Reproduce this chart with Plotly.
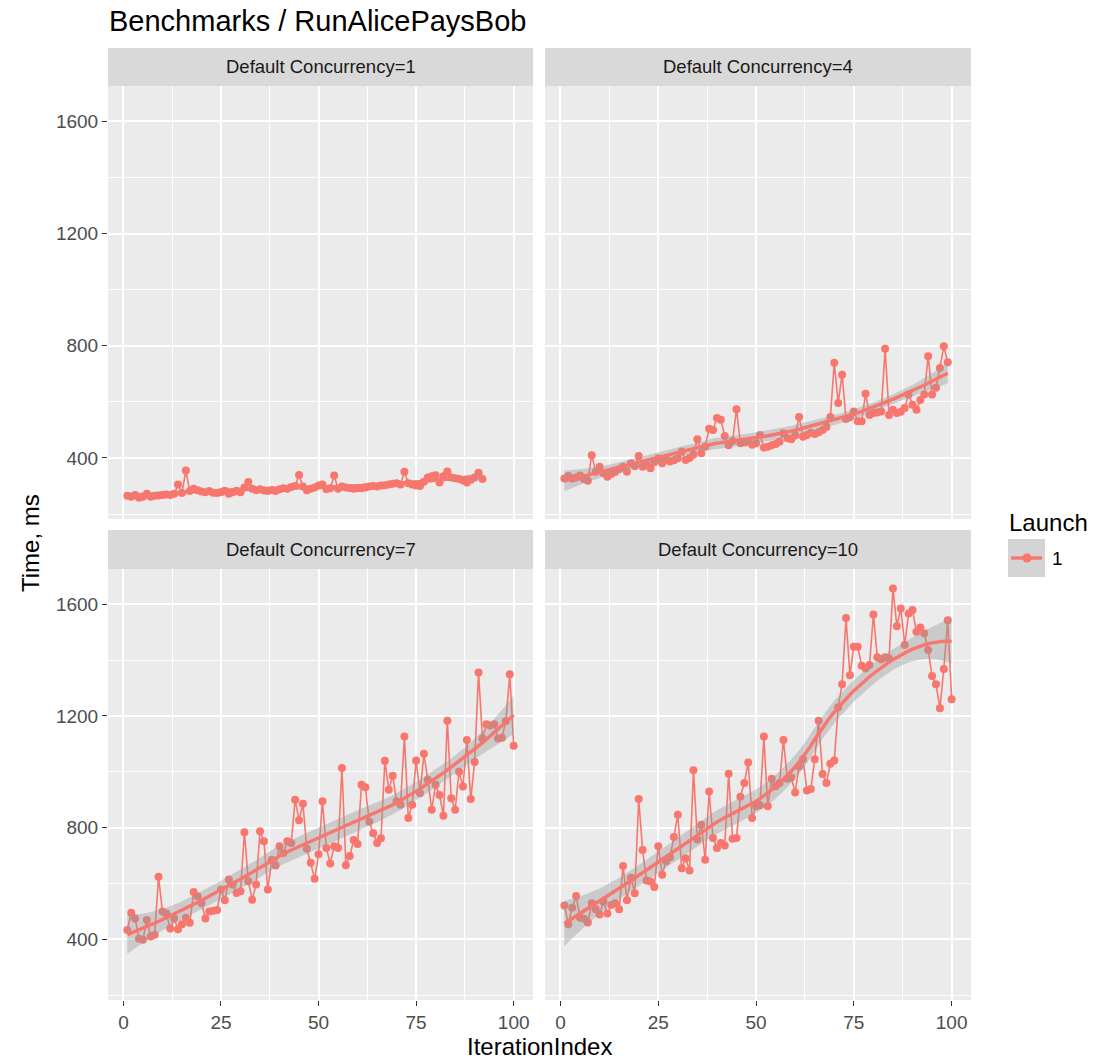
import numpy as np
import plotly.graph_objects as go

# ---- benchmark timings (ms) per iteration, one series per concurrency level ----
concurrency_levels = [1, 4, 7, 10]

time_c1 = [265, 262, 268, 258, 262, 272, 262, 265, 266, 268, 270, 268, 272, 305, 275, 355,
           282, 290, 285, 280, 278, 282, 276, 275, 278, 283, 272, 278, 283, 278, 295, 314,
           290, 285, 288, 284, 282, 286, 282, 288, 292, 290, 296, 300, 339, 298, 285, 290,
           295, 302, 305, 288, 292, 337, 290, 298, 295, 293, 290, 292, 292, 295, 298, 300,
           298, 302, 303, 305, 308, 310, 305, 351, 310, 305, 302, 300, 315, 330, 335, 338,
           312, 335, 352, 330, 328, 325, 320, 312, 322, 330, 347, 325]

time_c4 = [327, 336, 327, 330, 337, 325, 319, 410, 351, 369, 345, 333, 343, 350, 360, 369,
           351, 381, 370, 407, 369, 375, 363, 385, 399, 381, 395, 387, 392, 399, 423, 393,
           400, 411, 467, 417, 440, 504, 500, 542, 536, 478, 445, 460, 574, 452, 455, 458,
           447, 452, 482, 437, 440, 445, 450, 458, 488, 470, 467, 480, 546, 476, 482, 490,
           485, 492, 500, 510, 546, 739, 596, 697, 539, 545, 566, 531, 531, 629, 553, 560,
           562, 566, 789, 553, 572, 560, 565, 578, 626, 590, 572, 607, 626, 763, 626, 650,
           721, 798, 741]

time_c7 = [433, 495, 474, 402, 398, 469, 410, 416, 624, 499, 492, 438, 474, 436, 454, 477,
           459, 569, 554, 530, 474, 499, 502, 505, 578, 540, 614, 596, 566, 572, 783, 608,
           541, 596, 787, 751, 578, 685, 664, 733, 709, 751, 745, 900, 826, 885, 724, 674,
           617, 704, 894, 727, 671, 733, 727, 1013, 665, 698, 755, 741, 953, 944, 822, 780,
           745, 762, 1039, 935, 986, 894, 882, 1126, 834, 882, 1040, 923, 1064, 971, 864, 953,
           917, 842, 1183, 905, 864, 1000, 947, 1114, 902, 1035, 1355, 1119, 1170, 1166, 1170, 1119,
           1122, 1182, 1349, 1093]

time_c10 = [521, 454, 513, 555, 477, 473, 460, 529, 507, 489, 534, 492, 523, 529, 507, 662,
            540, 620, 565, 902, 720, 610, 607, 587, 733, 631, 679, 694, 766, 846, 654, 690,
            646, 1005, 757, 810, 685, 929, 763, 727, 745, 736, 993, 760, 763, 910, 960, 1033,
            834, 876, 880, 1126, 876, 975, 948, 960, 1114, 975, 979, 926, 1019, 1045, 933, 938,
            1045, 1183, 992, 960, 1029, 1040, 1231, 1313, 1551, 1346, 1448, 1448, 1380, 1370, 1382, 1563,
            1410, 1403, 1410, 1406, 1656, 1521, 1585, 1454, 1567, 1579, 1501, 1517, 1496, 1436, 1343, 1313,
            1227, 1368, 1543, 1260]

series = [time_c1, time_c4, time_c7, time_c10]

x_ticks = [0, 25, 50, 75, 100]
y_ticks = [400, 800, 1200, 1600]

RED = "#F8766D"
FONT = "Liberation Sans, Arial, sans-serif"
W, H = 1094, 1063


def loess(x, y, grid, span=0.75):
    """Local quadratic regression (tricube weights) with a 95% confidence band."""
    x = np.asarray(x, float)
    y = np.asarray(y, float)
    n = len(x)
    q = int(np.floor(n * span))

    def weights_row(x0):
        d = np.abs(x - x0)
        h = np.sort(d)[q - 1]
        w = np.clip(1 - (d / h) ** 3, 0, None) ** 3
        X = np.column_stack([np.ones(n), x - x0, (x - x0) ** 2])
        XtW = X.T * w
        return np.linalg.solve(XtW @ X, XtW)[0]

    L = np.array([weights_row(v) for v in x])
    resid = y - L @ y
    M = np.eye(n) - L
    MtM = M.T @ M
    d1 = np.trace(MtM)
    d2 = np.trace(MtM @ MtM)
    sigma = np.sqrt(np.sum(resid ** 2) / d1)
    G = np.array([weights_row(v) for v in grid])
    fit = G @ y
    se = sigma * np.sqrt(np.sum(G ** 2, axis=1))
    t = 1.96 + 2.4 / (d1 ** 2 / d2)
    return fit, fit - t * se, fit + t * se


# panel geometry in pixels: (left, right, top, bottom) and strip top
panels = [
    (108, 533, 86, 519, 48),
    (545, 971, 86, 519, 48),
    (108, 533, 569, 1000, 530),
    (545, 971, 569, 1000, 530),
]

fig = go.Figure()

all_vals = []
smooths = []
for vals in series:
    xs = np.arange(1, len(vals) + 1)
    grid = np.linspace(xs.min(), xs.max(), 80)
    fit, lo, hi = loess(xs, vals, grid)
    smooths.append((xs, grid, fit, lo, hi))
    all_vals += list(vals) + list(lo) + list(hi)

ymin, ymax = min(all_vals), max(all_vals)
ypad = 0.05 * (ymax - ymin)
y_range = [ymin - ypad, ymax + ypad]
x_all = [1, 100]
xpad = 0.05 * (x_all[1] - x_all[0])
x_range = [x_all[0] - xpad, x_all[1] + xpad]

for i, (vals, (xs, grid, fit, lo, hi)) in enumerate(zip(series, smooths)):
    suffix = "" if i == 0 else str(i + 1)
    xa, ya = "x" + suffix, "y" + suffix
    fig.add_trace(go.Scatter(
        x=xs, y=vals, mode="lines+markers", xaxis=xa, yaxis=ya,
        line=dict(color=RED, width=1.6), marker=dict(color=RED, size=8),
        showlegend=False, hoverinfo="x+y"))
    fig.add_trace(go.Scatter(
        x=np.concatenate([grid, grid[::-1]]), y=np.concatenate([hi, lo[::-1]]),
        fill="toself", fillcolor="rgba(153,153,153,0.4)", line=dict(width=0),
        mode="lines", xaxis=xa, yaxis=ya, showlegend=False, hoverinfo="skip"))
    fig.add_trace(go.Scatter(
        x=grid, y=fit, mode="lines", xaxis=xa, yaxis=ya,
        line=dict(color=RED, width=3.4), showlegend=False, hoverinfo="skip"))

layout = dict(
    width=W, height=H,
    margin=dict(l=0, r=0, t=0, b=0),
    paper_bgcolor="white", plot_bgcolor="#EBEBEB",
    font=dict(family=FONT, color="#4D4D4D"),
    shapes=[], annotations=[],
)

grid_common = dict(showgrid=True, gridcolor="white", gridwidth=1.6, zeroline=False,
                   showline=False)

for i, (l, r, t, b, st) in enumerate(panels):
    suffix = "" if i == 0 else str(i + 1)
    bottom_row = i >= 2
    left_col = i % 2 == 0
    layout["xaxis" + suffix] = dict(
        domain=[l / W, r / W], anchor="y" + suffix, range=x_range,
        tickvals=x_ticks, ticktext=[str(v) for v in x_ticks],
        showticklabels=bottom_row, ticks="outside" if bottom_row else "",
        ticklen=5, tickwidth=1.1, tickcolor="#333333",
        tickfont=dict(size=19, color="#4D4D4D"),
        minor=dict(tick0=12.5, dtick=25, showgrid=True, gridcolor="white", gridwidth=0.8),
        **grid_common)
    layout["yaxis" + suffix] = dict(
        domain=[1 - b / H, 1 - t / H], anchor="x" + suffix, range=y_range,
        tickvals=y_ticks, ticktext=[str(v) for v in y_ticks],
        showticklabels=left_col, ticks="outside" if left_col else "",
        ticklen=5, tickwidth=1.1, tickcolor="#333333",
        tickfont=dict(size=19, color="#4D4D4D"),
        minor=dict(tick0=200, dtick=400, showgrid=True, gridcolor="white", gridwidth=0.8),
        **grid_common)
    # facet strip
    layout["shapes"].append(dict(
        type="rect", xref="paper", yref="paper",
        x0=l / W, x1=r / W, y0=1 - t / H, y1=1 - st / H,
        fillcolor="#D9D9D9", line=dict(width=0), layer="below"))
    layout["annotations"].append(dict(
        text=f"Default Concurrency={concurrency_levels[i]}", xref="paper", yref="paper",
        x=(l + r) / 2 / W, y=1 - (t + st) / 2 / H, xanchor="center", yanchor="middle",
        showarrow=False, font=dict(size=18.5, color="#1A1A1A")))

# titles
layout["annotations"] += [
    dict(text="Benchmarks / RunAlicePaysBob", xref="paper", yref="paper",
         x=107 / W, y=1 - 21 / H, xanchor="left", yanchor="middle", showarrow=False,
         font=dict(size=29, color="black")),
    dict(text="Time, ms", xref="paper", yref="paper", x=30 / W, y=1 - 543 / H,
         xanchor="center", yanchor="middle", textangle=-90, showarrow=False,
         font=dict(size=24, color="black")),
    dict(text="IterationIndex", xref="paper", yref="paper", x=539.5 / W, y=1 - 1046 / H,
         xanchor="center", yanchor="middle", showarrow=False,
         font=dict(size=24, color="black")),
    dict(text="Launch", xref="paper", yref="paper", x=1007 / W, y=1 - 522 / H,
         xanchor="left", yanchor="middle", showarrow=False,
         font=dict(size=24, color="black")),
    dict(text="1", xref="paper", yref="paper", x=1050 / W, y=1 - 558 / H,
         xanchor="left", yanchor="middle", showarrow=False,
         font=dict(size=19, color="black")),
]

# legend key: grey box with the series line and point
layout["shapes"] += [
    dict(type="rect", xref="paper", yref="paper", x0=1008 / W, x1=1045 / W,
         y0=1 - 577 / H, y1=1 - 539 / H, fillcolor="#D4D4D4", line=dict(width=0)),
    dict(type="line", xref="paper", yref="paper", x0=1011 / W, x1=1042 / W,
         y0=1 - 558 / H, y1=1 - 558 / H, line=dict(color=RED, width=3.4)),
    dict(type="circle", xref="paper", yref="paper", x0=1022.5 / W, x1=1031.5 / W,
         y0=1 - 562.5 / H, y1=1 - 553.5 / H, fillcolor=RED, line=dict(width=0)),
]

fig.update_layout(**layout)
fig.write_html("out.html")
